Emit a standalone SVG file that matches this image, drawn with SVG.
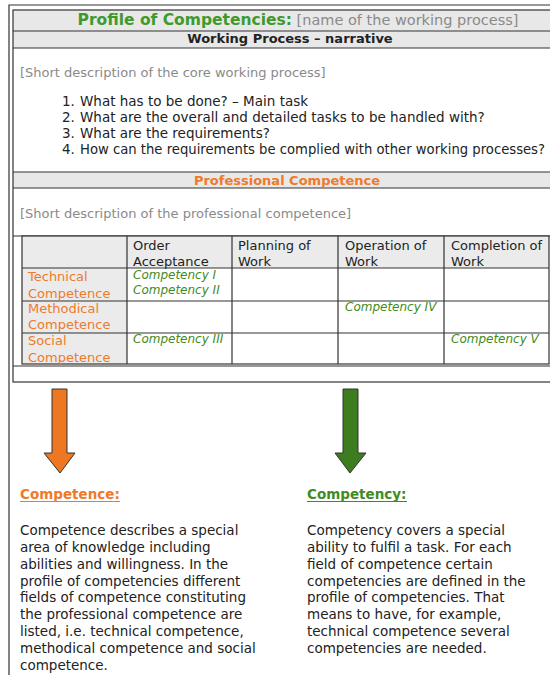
<svg xmlns="http://www.w3.org/2000/svg" width="550" height="675" viewBox="0 0 550 675">
<style>
text{font-family:"DejaVu Sans","Verdana",sans-serif;fill:#222}
.b{font-weight:bold}
.gr{fill:#8a8a8a}
.or{fill:#ee7a2a}
.gn{fill:#3f8c24}
.it{font-style:italic;font-size:12px;fill:#3f8c24}
.t13{font-size:13px}
.t135{font-size:13.5px}
.ln{stroke:#333;stroke-width:1.2;fill:none}
.bar{fill:#e8e8e8}
.cellg{fill:#ebebeb}
</style>
<rect width="550" height="675" fill="#fff"/>
<g id="frame">
  <path class="ln" d="M9,675 V5 H555"/>
  <rect class="bar" x="13" y="10" width="545" height="21"/>
  <rect class="bar" x="13" y="31" width="545" height="17"/>
  <rect class="bar" x="13" y="172" width="545" height="16"/>
  <rect class="ln" x="13" y="10" width="545" height="372"/>
  <line class="ln" x1="13" y1="31" x2="555" y2="31"/>
  <line class="ln" x1="13" y1="48" x2="555" y2="48"/>
  <line class="ln" x1="13" y1="172" x2="555" y2="172"/>
  <line class="ln" x1="13" y1="188" x2="555" y2="188"/>
  <line class="ln" x1="13" y1="236" x2="555" y2="236"/>
  <line class="ln" x1="13" y1="366" x2="555" y2="366"/>
</g>
<g id="title">
  <text x="298" y="25" text-anchor="middle" style="font-size:15.5px"><tspan class="b" style="fill:#3f9a2e">Profile of Competencies:</tspan><tspan class="gr" style="font-size:14.5px"> [name of the working process]</tspan></text>
  <text class="b t13" x="290" y="43" text-anchor="middle">Working Process – narrative</text>
</g>
<g id="narrative">
  <text class="gr t13" x="20" y="77">[Short description of the core working process]</text>
  <text class="t135" x="62" y="106">1.</text><text class="t135" x="80" y="106">What has to be done? – Main task</text>
  <text class="t135" x="62" y="122">2.</text><text class="t135" x="80" y="122">What are the overall and detailed tasks to be handled with?</text>
  <text class="t135" x="62" y="138">3.</text><text class="t135" x="80" y="138">What are the requirements?</text>
  <text class="t135" x="62" y="154">4.</text><text x="80" y="154" style="font-size:13.2px">How can the requirements be complied with other working processes?</text>
</g>
<g id="professional">
  <text class="b t13 or" x="287" y="185" text-anchor="middle">Professional Competence</text>
  <text class="gr t13" x="20" y="218">[Short description of the professional competence]</text>
</g>
<g id="table">
  <rect class="cellg" x="22" y="236" width="527" height="32"/>
  <rect class="cellg" x="22" y="268" width="105" height="96"/>
  <rect class="ln" x="22" y="236" width="527" height="128"/>
  <path class="ln" d="M22,268 H549 M22,301 H549 M22,333 H549 M127,236 V364 M232,236 V364 M338,236 V364 M444,236 V364"/>
  <text class="t13" x="133" y="250">Order</text><text class="t13" x="133" y="266">Acceptance</text>
  <text class="t13" x="238" y="250">Planning of</text><text class="t13" x="238" y="266">Work</text>
  <text class="t13" x="345" y="250">Operation of</text><text class="t13" x="345" y="266">Work</text>
  <text class="t13" x="451" y="250">Completion of</text><text class="t13" x="451" y="266">Work</text>
  <text class="t13 or" x="28" y="281">Technical</text><text class="t13 or" x="28" y="298">Competence</text>
  <text class="t13 or" x="28" y="313">Methodical</text><text class="t13 or" x="28" y="329">Competence</text>
  <text class="t13 or" x="28" y="345">Social</text><text class="t13 or" x="28" y="362">Competence</text>
  <text class="it" x="133" y="279">Competency I</text>
  <text class="it" x="133" y="294">Competency II</text>
  <text class="it" x="345" y="311">Competency IV</text>
  <text class="it" x="133" y="343">Competency III</text>
  <text class="it" x="451" y="343">Competency V</text>
</g>
<g id="connectors">
  <path d="M52,389 H67 V453 H75 L60,473 L44,453 H52 Z" fill="#ee7722" stroke="#333" stroke-width="1"/>
  <path d="M343,389 H358 V453 H366 L350,473 L335,453 H343 Z" fill="#3b7d1f" stroke="#333" stroke-width="1"/>
</g>
<g id="competence">
  <text class="b t135 or" x="20" y="499">Competence:</text>
  <line x1="20" y1="501.5" x2="120" y2="501.5" stroke="#ee7a2a" stroke-width="1.2"/>
  <text class="t135" x="20" y="535">Competence describes a special</text>
  <text class="t135" x="20" y="552">area of knowledge including</text>
  <text class="t135" x="20" y="569">abilities and willingness. In the</text>
  <text class="t135" x="20" y="586">profile of competencies different</text>
  <text class="t135" x="20" y="602">fields of competence constituting</text>
  <text class="t135" x="20" y="619">the professional competence are</text>
  <text class="t135" x="20" y="636">listed, i.e. technical competence,</text>
  <text class="t135" x="20" y="653">methodical competence and social</text>
  <text class="t135" x="20" y="670">competence.</text>
</g>
<g id="competency">
  <text class="b t135 gn" x="307" y="499">Competency:</text>
  <line x1="307" y1="501.5" x2="407" y2="501.5" stroke="#3f8c24" stroke-width="1.2"/>
  <text class="t135" x="307" y="535">Competency covers a special</text>
  <text class="t135" x="307" y="552">ability to fulfil a task. For each</text>
  <text class="t135" x="307" y="569">field of competence certain</text>
  <text class="t135" x="307" y="586">competencies are defined in the</text>
  <text class="t135" x="307" y="602">profile of competencies. That</text>
  <text class="t135" x="307" y="619">means to have, for example,</text>
  <text class="t135" x="307" y="636">technical competence several</text>
  <text class="t135" x="307" y="653">competencies are needed.</text>
</g>
</svg>
